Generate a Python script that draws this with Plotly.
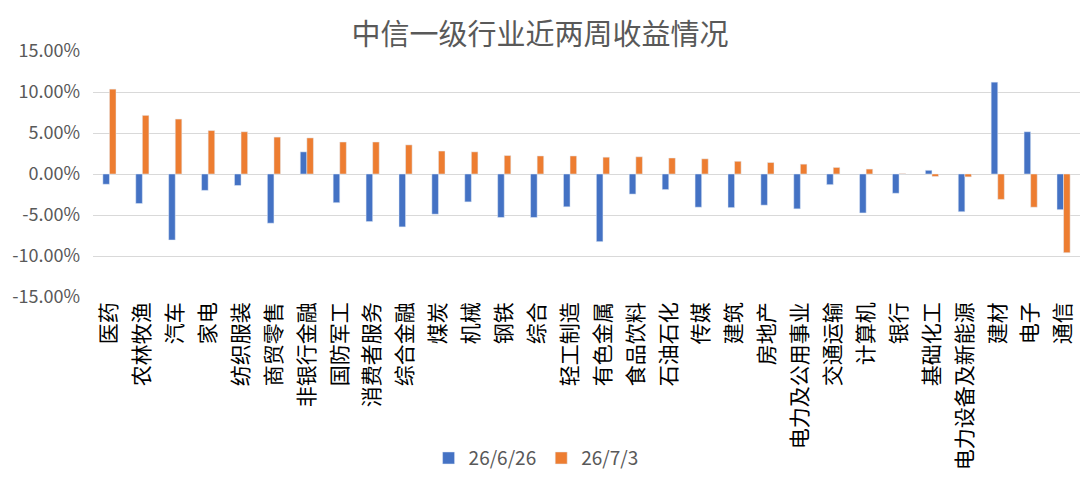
import plotly.graph_objects as go

categories = ['医药', '农林牧渔', '汽车', '家电', '纺织服装', '商贸零售', '非银行金融', '国防军工',
              '消费者服务', '综合金融', '煤炭', '机械', '钢铁', '综合', '轻工制造', '有色金属',
              '食品饮料', '石油石化', '传媒', '建筑', '房地产', '电力及公用事业', '交通运输', '计算机',
              '银行', '基础化工', '电力设备及新能源', '建材', '电子', '通信']

# weekly returns, %
ret_0626 = [-1.25, -3.6, -8.05, -2.0, -1.4, -6.0, 2.7, -3.5, -5.8, -6.45, -4.9, -3.4, -5.3, -5.3,
            -4.0, -8.25, -2.45, -1.9, -4.05, -4.1, -3.8, -4.25, -1.3, -4.75, -2.35, 0.45, -4.6,
            11.2, 5.15, -4.35]
ret_0703 = [10.35, 7.15, 6.7, 5.3, 5.15, 4.5, 4.4, 3.9, 3.9, 3.55, 2.8, 2.7, 2.25, 2.2,
            2.2, 2.05, 2.1, 1.95, 1.85, 1.55, 1.4, 1.2, 0.8, 0.6, 0.05, -0.3, -0.35,
            -3.1, -4.05, -9.6]

y_ticks = [15, 10, 5, 0, -5, -10, -15]
y_tick_text = ['%.2f%%' % v for v in y_ticks]

fig = go.Figure()
fig.add_trace(go.Bar(x=categories, y=ret_0626, name='26/6/26', marker_color='#4472C4'))
fig.add_trace(go.Bar(x=categories, y=ret_0703, name='26/7/3', marker_color='#ED7D31'))

fig.update_layout(
    width=1080, height=493,
    paper_bgcolor='white', plot_bgcolor='white',
    margin=dict(l=93, r=0, t=51, b=196),
    font=dict(family='Noto Sans CJK SC', color='#595959'),
    title=dict(text='中信一级行业近两周收益情况', x=0.5, xanchor='center', y=0.929, yanchor='middle',
               font=dict(size=29, color='#595959'), automargin=False),
    barmode='group', bargap=0.6, bargroupgap=0,
    showlegend=True,
    legend=dict(orientation='h', x=0.34, xanchor='left', y=-0.655, yanchor='middle',
                font=dict(size=19, color='#595959'), itemwidth=30, traceorder='normal'),
)
fig.update_xaxes(tickangle=-90, tickfont=dict(size=21, color='#000000'), showgrid=False,
                 showline=False, ticks='', automargin=False)
fig.update_yaxes(range=[-15, 15], tickvals=y_ticks, ticktext=y_tick_text,
                 tickfont=dict(size=18, color='#595959'), showgrid=True, gridcolor='#D9D9D9',
                 gridwidth=1.3, zeroline=True, zerolinecolor='#D9D9D9', zerolinewidth=1.3,
                 showline=False, ticks='', automargin=False, ticklabelstandoff=12)

# page body has a default 8px margin; drop it so the figure sits at the corner
fig.write_html('out.html', config={'displayModeBar': False},
               post_script="document.body.style.margin='0';document.body.style.overflow='hidden';")
